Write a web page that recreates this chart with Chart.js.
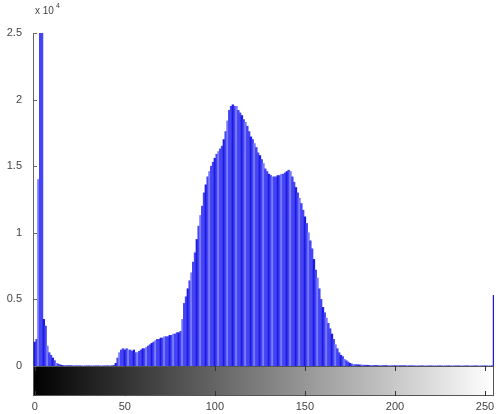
<!DOCTYPE html>
<html lang="en">
<head>
  <meta charset="UTF-8">
  <title>Histogram</title>
  <script src="https://cdn.jsdelivr.net/npm/chart.js"></script>
  <style>
    body {
      margin: 0;
      padding: 0;
      background-color: #fff;
    }
    .container {
      width: 496px;
      height: 414px;
    }
  </style>
</head>
<body>
  <div class="container">
    <canvas id="hist"></canvas>
  </div>

  <script>
    // Histogram counts per gray level (units of 10^4)
    const counts = [
      0.18, 0.2, 1.4, 2.5, 2.5, 0.35, 0.3, 0.15, 0.1, 0.08,      // 0-9
      0.06, 0.04, 0.02, 0.015, 0.01, 0.005, 0.004, 0.004, 0.003, 0.003, // 10-19
      0.002, 0.002, 0.002, 0.002, 0.001, 0.001, 0.001, 0.001, 0.001, 0.001, // 20-29
      0.001, 0.001, 0.001, 0.001, 0.001, 0.001, 0.001, 0.001, 0.001, 0.001, // 30-39
      0.001, 0.002, 0.002, 0.003, 0.005, 0.02, 0.06, 0.1, 0.12, 0.13, // 40-49
      0.12, 0.13, 0.12, 0.12, 0.11, 0.12, 0.1, 0.1, 0.11, 0.12,  // 50-59
      0.13, 0.13, 0.14, 0.15, 0.16, 0.17, 0.18, 0.19, 0.2, 0.2,  // 60-69
      0.21, 0.21, 0.22, 0.22, 0.22, 0.23, 0.23, 0.24, 0.24, 0.25, // 70-79
      0.25, 0.26, 0.35, 0.47, 0.52, 0.58, 0.64, 0.7, 0.78, 0.85, // 80-89
      0.95, 1.05, 1.13, 1.2, 1.3, 1.36, 1.42, 1.46, 1.5, 1.53,   // 90-99
      1.56, 1.59, 1.61, 1.63, 1.65, 1.7, 1.76, 1.84, 1.92, 1.95, // 100-109
      1.96, 1.95, 1.95, 1.92, 1.9, 1.88, 1.85, 1.83, 1.8, 1.76,  // 110-119
      1.72, 1.7, 1.67, 1.64, 1.6, 1.58, 1.55, 1.52, 1.48, 1.46,  // 120-129
      1.44, 1.43, 1.42, 1.42, 1.42, 1.43, 1.43, 1.44, 1.44, 1.45, // 130-139
      1.46, 1.47, 1.46, 1.42, 1.38, 1.34, 1.3, 1.26, 1.22, 1.17, // 140-149
      1.12, 1.07, 1.0, 0.94, 0.88, 0.8, 0.72, 0.66, 0.58, 0.5,   // 150-159
      0.44, 0.4, 0.36, 0.32, 0.28, 0.24, 0.2, 0.16, 0.13, 0.1,   // 160-169
      0.08, 0.07, 0.05, 0.04, 0.03, 0.02, 0.015, 0.012, 0.01, 0.01, // 170-179
      0.008, 0.008, 0.007, 0.006, 0.006, 0.005, 0.005, 0.004, 0.004, 0.004, // 180-189
      0.003, 0.003, 0.003, 0.003, 0.003, 0.003, 0.002, 0.002, 0.002, 0.002, // 190-199
      0.002, 0.002, 0.003, 0.003, 0.002, 0.002, 0.002, 0.002, 0.002, 0.002, // 200-209
      0.001, 0.001, 0.001, 0.001, 0.001, 0.001, 0.001, 0.001, 0.001, 0.001, // 210-219
      0.001, 0.001, 0.001, 0.001, 0.001, 0.001, 0.001, 0.001, 0.001, 0.001, // 220-229
      0.001, 0.001, 0.001, 0.001, 0.001, 0.001, 0.001, 0.001, 0.001, 0.001, // 230-239
      0.001, 0.001, 0.001, 0.001, 0.001, 0.001, 0.001, 0.001, 0.001, 0.001, // 240-249
      0.001, 0.001, 0.001, 0.001, 0.002, 0.53                     // 250-255
    ];
    const xTicks = [0, 50, 100, 150, 200, 250];
    const yTicks = [0, 0.5, 1, 1.5, 2, 2.5];

    const puntos = counts.map((c, i) => ({ x: i, y: c }));

    // stripes like the aliased stems of the original
    const colores = counts.map((c, i) => {
      if (i % 5 === 0) return '#1c1ce0';
      if (i % 5 === 2) return '#7a7aff';
      return '#4444f4';
    });

    const fuente = { family: 'Liberation Sans, Arial, sans-serif', size: 11 };

    // colour bar under the axes, tick marks and the exponent label
    const decoracion = {
      id: 'decoracion',
      afterDraw(chart) {
        const ctx = chart.ctx;
        const area = chart.chartArea;
        const xs = chart.scales.x;
        const ys = chart.scales.y;
        ctx.save();

        const top = area.bottom + 1;
        const h = 28;
        const grad = ctx.createLinearGradient(area.left, 0, area.right, 0);
        grad.addColorStop(0, '#000');
        grad.addColorStop(1, '#fff');
        ctx.fillStyle = grad;
        ctx.fillRect(area.left, top, area.right - area.left, h);
        ctx.strokeStyle = '#555';
        ctx.lineWidth = 1;
        ctx.strokeRect(area.left + 0.5, top - 0.5, area.right - area.left - 1, h + 1);

        // x tick marks on the bar
        ctx.strokeStyle = '#333';
        xTicks.forEach(v => {
          const px = Math.round(xs.getPixelForValue(v)) + 0.5;
          ctx.beginPath();
          ctx.moveTo(px, top - 1);
          ctx.lineTo(px, top + 4);
          ctx.moveTo(px, top + h - 4);
          ctx.lineTo(px, top + h + 1);
          ctx.stroke();
        });

        // y tick marks
        ctx.strokeStyle = '#666';
        yTicks.forEach(v => {
          const py = Math.round(ys.getPixelForValue(v)) + 0.5;
          ctx.beginPath();
          ctx.moveTo(area.left, py);
          ctx.lineTo(area.left + 4, py);
          ctx.stroke();
        });

        // x 10^4
        ctx.fillStyle = '#444';
        ctx.font = '10px Liberation Sans, Arial, sans-serif';
        ctx.textBaseline = 'alphabetic';
        ctx.fillText('x 10', area.left + 2, 14);
        ctx.font = '7px Liberation Sans, Arial, sans-serif';
        ctx.fillText('4', area.left + 23, 8);
        ctx.restore();
      }
    };

    new Chart(document.getElementById('hist'), {
      type: 'bar',
      data: {
        datasets: [{
          data: puntos,
          backgroundColor: colores,
          borderWidth: 0,
          barPercentage: 1,
          categoryPercentage: 1
        }]
      },
      options: {
        responsive: true,
        maintainAspectRatio: false,
        animation: false,
        layout: { padding: { top: 33, right: 2, left: 0, bottom: 0 } },
        plugins: {
          legend: { display: false },
          tooltip: { enabled: false }
        },
        scales: {
          x: {
            type: 'linear',
            offset: false,
            min: -1,
            max: 255,
            grid: { display: false },
            border: { display: false },
            afterBuildTicks: s => { s.ticks = xTicks.map(v => ({ value: v })); },
            afterFit: s => { s.height = 48; s.paddingLeft = 0; s.paddingRight = 0; },
            ticks: { padding: 26, color: '#444', font: fuente, maxRotation: 0, callback: v => String(v) }
          },
          y: {
            min: 0,
            max: 2.5,
            grid: { display: false },
            border: { display: true, color: '#666', width: 1 },
            afterBuildTicks: s => { s.ticks = yTicks.map(v => ({ value: v })); },
            afterFit: s => { s.width = 33; },
            ticks: { padding: 3, color: '#444', font: fuente, callback: v => String(v) }
          }
        }
      },
      plugins: [decoracion]
    });
  </script>
</body>
</html>
